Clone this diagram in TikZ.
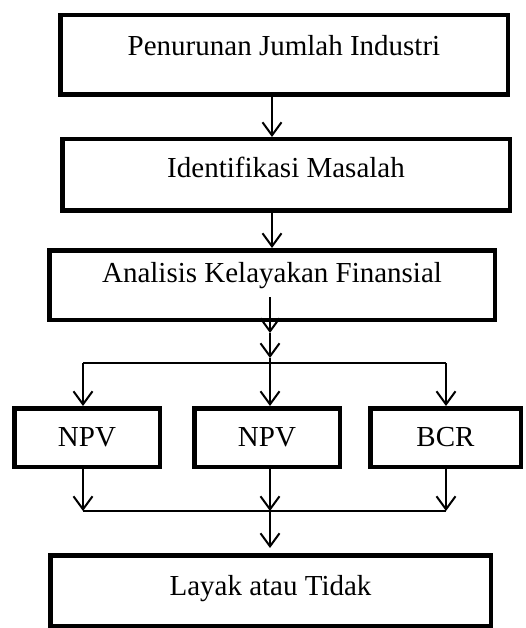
\documentclass[tikz,border=0pt]{standalone}
\usepackage{fontspec}
\setmainfont{Liberation Serif}
\usetikzlibrary{arrows.meta}
\begin{document}
\begin{tikzpicture}[x=1pt,y=-1pt,
	box/.style={draw,line width=4.5pt,inner sep=0pt,font=\fontsize{29pt}{34pt}\selectfont},
	arr/.style={line width=2pt,-{Straight Barb[length=13pt,width=19pt]}},
	garis/.style={line width=1.3pt}]
	\useasboundingbox (0,0) rectangle (526,628);
	% kotak alur utama
	\node[box,minimum width=447.5pt,minimum height=79.5pt,text depth=20pt] (industri) at (284,55) {Penurunan Jumlah Industri};
	\node[box,minimum width=447.5pt,minimum height=71.5pt,text depth=16pt] (masalah) at (286,175) {Identifikasi Masalah};
	\node[box,minimum width=445.5pt,minimum height=69.5pt,text depth=26pt] (kelayakan) at (272,285) {Analisis Kelayakan Finansial};
	% kriteria
	\node[box,minimum width=145.5pt,minimum height=58.5pt] (npvA) at (87,437.5) {NPV};
	\node[box,minimum width=145.5pt,minimum height=58.5pt] (npvB) at (267,437.5) {NPV};
	\node[box,minimum width=150.5pt,minimum height=58.5pt] (bcr) at (445.5,437.5) {BCR};
	\node[box,minimum width=440.5pt,minimum height=70.5pt,text depth=10pt] (layak) at (270.5,590.5) {Layak atau Tidak};
	\coordinate (tengah) at (270,333);
	\coordinate (pecah) at (270,363);
	\coordinate (gabung) at (270,511);
	\coordinate (kiri) at (83,363);
	\coordinate (kanan) at (446,363);
	% panah
	\draw[arr] (industri.south -| kelayakan) -- (masalah.north -| kelayakan);
	\draw[arr] (masalah.south -| kelayakan) -- (kelayakan.north);
	\draw[arr] ([yshift=-12pt]kelayakan.center -| pecah) -- (tengah);
	\draw[arr] (tengah) -- ([yshift=5pt]pecah);
	\draw[garis] (kiri) -- (kanan);
	\draw[arr] ([yshift=5pt]pecah) -- (npvB.north -| pecah);
	\draw[arr] (kiri) -- (npvA.north -| kiri);
	\draw[arr] (kanan) -- (bcr.north -| kanan);
	\draw[arr] (npvA.south -| kiri) -- (gabung -| kiri);
	\draw[arr] (npvB.south -| pecah) -- (gabung);
	\draw[arr] (bcr.south -| kanan) -- (gabung -| kanan);
	\draw[garis] (gabung -| kiri) -- (gabung -| kanan);
	\draw[arr] (gabung) -- ([yshift=5pt]layak.north -| gabung);
\end{tikzpicture}
\end{document}
